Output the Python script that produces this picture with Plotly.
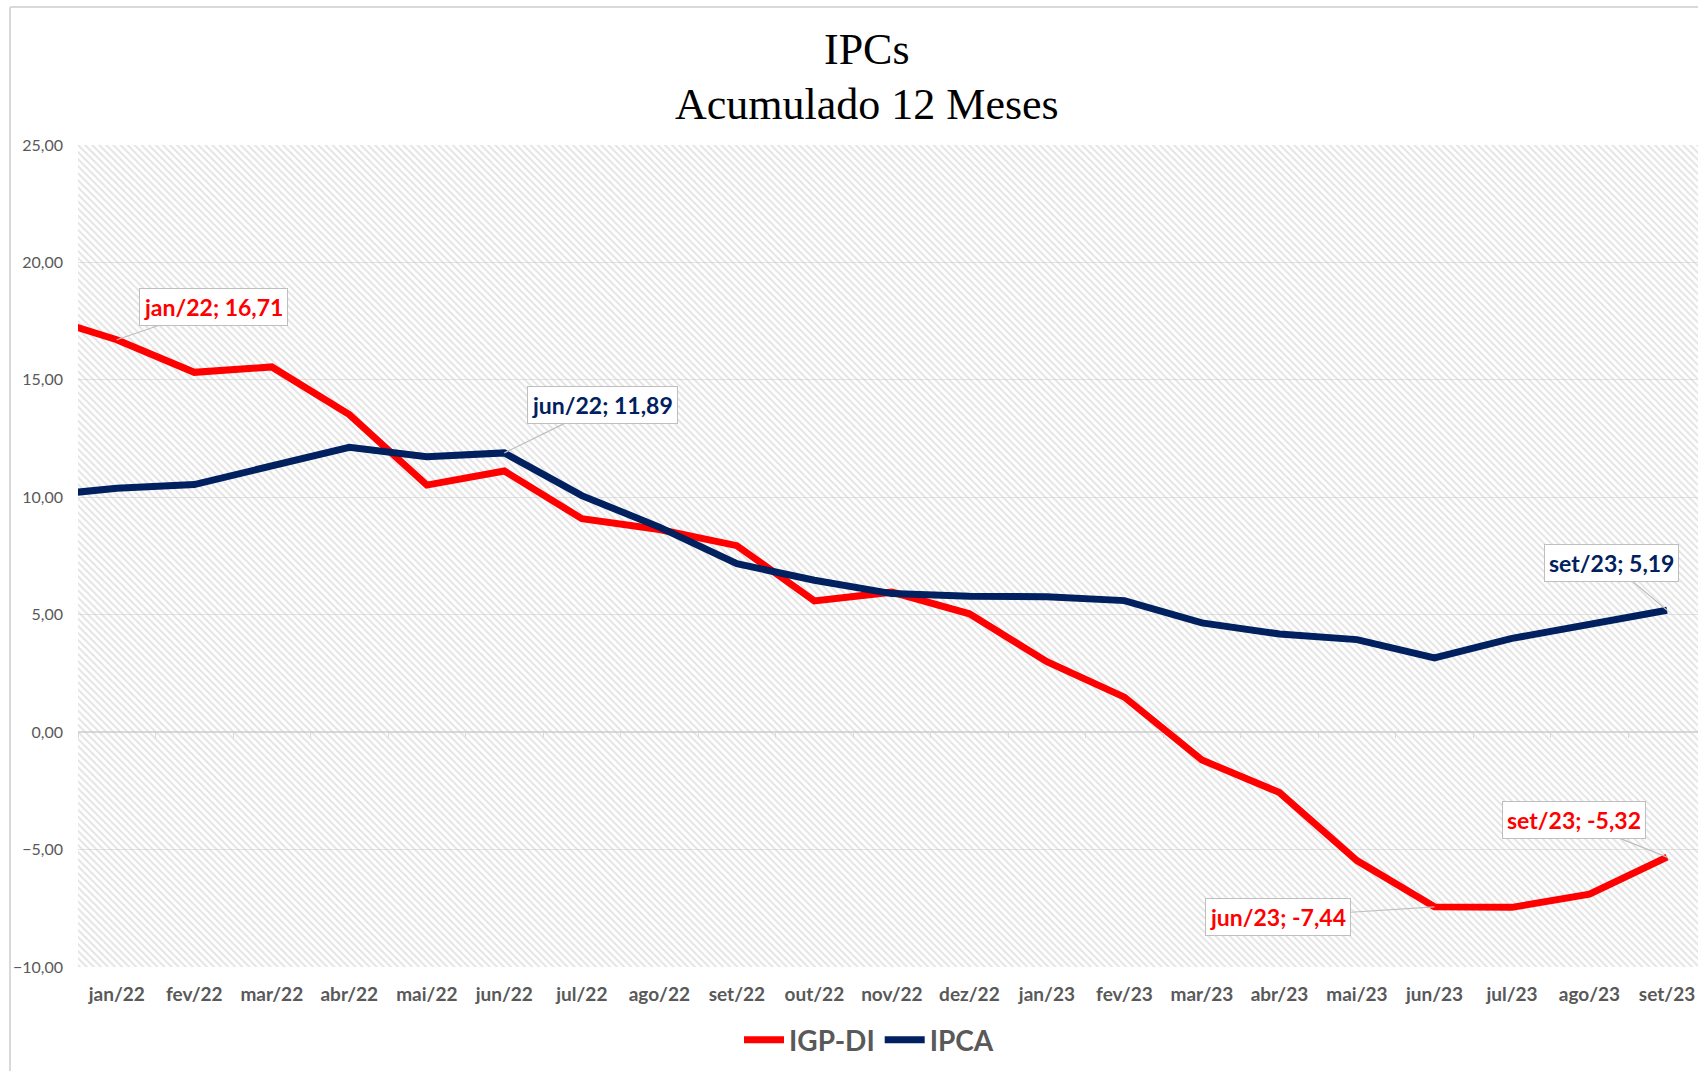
import plotly.graph_objects as go

# Meses (dez/21 fica fora da área visível, só define o início da linha)
meses = ['dez/21', 'jan/22', 'fev/22', 'mar/22', 'abr/22', 'mai/22', 'jun/22',
         'jul/22', 'ago/22', 'set/22', 'out/22', 'nov/22', 'dez/22', 'jan/23',
         'fev/23', 'mar/23', 'abr/23', 'mai/23', 'jun/23', 'jul/23', 'ago/23', 'set/23']
igp_di = [17.74, 16.71, 15.32, 15.55, 13.52, 10.52, 11.12, 9.09, 8.63, 7.94, 5.59,
          5.96, 5.04, 3.00, 1.49, -1.19, -2.57, -5.47, -7.44, -7.46, -6.90, -5.32]
ipca = [10.06, 10.38, 10.54, 11.30, 12.13, 11.73, 11.89, 10.07, 8.73, 7.17, 6.47,
        5.90, 5.79, 5.77, 5.60, 4.65, 4.18, 3.94, 3.16, 3.99, 4.61, 5.19]
pos = list(range(-1, len(meses) - 1))

x_range = [-0.5, 20.4]
y_range = [-10, 25]

RED = '#FF0000'
NAVY = '#002060'
GREY_TXT = '#595959'

# geometria em pixels
W, H = 1698, 1071
L, R, T, B = 78, 0, 145, 104
PH = H - T - B


def py(px):
    # pixel vertical -> coordenada paper
    return (H - B - px) / PH


def pxx(px):
    return (px - L) / (W - L - R)


fig = go.Figure()

# fundo hachurado da área do gráfico
fig.add_trace(go.Scatter(
    x=[x_range[0] - 1, x_range[1] + 1, x_range[1] + 1, x_range[0] - 1, x_range[0] - 1],
    y=[y_range[0], y_range[0], y_range[1], y_range[1], y_range[0]],
    mode='lines', line=dict(width=0), fill='toself',
    fillcolor='rgba(0,0,0,0)',
    fillpattern=dict(shape='\\', fgcolor='#c8c8c8', size=5, solidity=0.4, fillmode='overlay'),
    showlegend=False, hoverinfo='skip'))

fig.add_trace(go.Scatter(x=pos, y=igp_di, mode='lines', name='IGP-DI',
                         line=dict(color=RED, width=7)))
fig.add_trace(go.Scatter(x=pos, y=ipca, mode='lines', name='IPCA',
                         line=dict(color=NAVY, width=7)))

# eixo auxiliar só para as marcas de escala na linha do zero
fig.add_trace(go.Scatter(x=[], y=[], xaxis='x2', showlegend=False, hoverinfo='skip'))

# rótulos de dados
callouts = [
    (1, igp_di, RED, 97, -33),
    (6, ipca, NAVY, 98, -48),
    (18, igp_di, RED, -156, 10),
    (21, ipca, NAVY, -56, -47),
    (21, igp_di, RED, -93, -37),
]
for i, serie, cor, ax, ay in callouts:
    fig.add_annotation(
        x=pos[i], y=serie[i],
        text='<b>%s; %s</b>' % (meses[i], ('%.2f' % serie[i]).replace('.', ',')),
        showarrow=True, arrowhead=0, arrowwidth=1.2, arrowcolor='#bfbfbf',
        ax=ax, ay=ay, bgcolor='white', bordercolor='#bfbfbf', borderwidth=1,
        borderpad=4, font=dict(family='Lato', size=23, color=cor))

# título
for txt, ypix in [('IPCs', 50), ('Acumulado 12 Meses', 104)]:
    fig.add_annotation(text=txt, xref='paper', yref='paper', x=pxx(867), y=py(ypix),
                       xanchor='center', yanchor='middle', showarrow=False,
                       font=dict(family='Liberation Serif', size=44, color='black'))

# moldura do gráfico (Excel)
fig.add_shape(type='line', xref='paper', yref='paper', x0=pxx(10), x1=pxx(10),
              y0=py(1100), y1=py(7), line=dict(color='#d9d9d9', width=2))
fig.add_shape(type='line', xref='paper', yref='paper', x0=pxx(10), x1=pxx(1750),
              y0=py(7), y1=py(7), line=dict(color='#d9d9d9', width=2))

fig.update_layout(
    width=W, height=H,
    margin=dict(l=L, r=R, t=T, b=B, autoexpand=False),
    paper_bgcolor='white', plot_bgcolor='white',
    separators=',.',
    xaxis=dict(range=x_range, tickvals=pos[1:], ticktext=meses[1:],
               showgrid=False, zeroline=False, showline=False, ticks='',
               ticklabelstandoff=14, automargin=False,
               tickfont=dict(family='Lato', size=19, color=GREY_TXT, weight='bold')),
    xaxis2=dict(range=x_range, overlaying='x', anchor='free',
                position=10 / 35, side='bottom',
                tickvals=[p + 0.5 for p in pos], showticklabels=False,
                ticks='outside', ticklen=5, tickcolor='#d9d9d9', tickwidth=1,
                showgrid=False, zeroline=False, showline=False, automargin=False),
    yaxis=dict(range=y_range, dtick=5, tickformat='.2f', showgrid=True,
               gridcolor='#e3e3e3', gridwidth=1, zeroline=True,
               zerolinecolor='#d9d9d9', zerolinewidth=2, showline=False,
               ticklabelstandoff=14, automargin=False,
               tickfont=dict(family='Lato', size=16, color=GREY_TXT)),
    legend=dict(orientation='h', x=pxx(869), xanchor='center', y=py(1040),
                yanchor='middle', font=dict(family='Lato', size=28, color=GREY_TXT,
                                            weight='bold'),
                itemwidth=40, traceorder='normal'),
    hovermode=False,
)

# sem a margem padrão do <body>, a figura ocupa a janela inteira
fig.write_html('out.html', config={'displayModeBar': False},
               post_script="document.body.style.margin='0';")
